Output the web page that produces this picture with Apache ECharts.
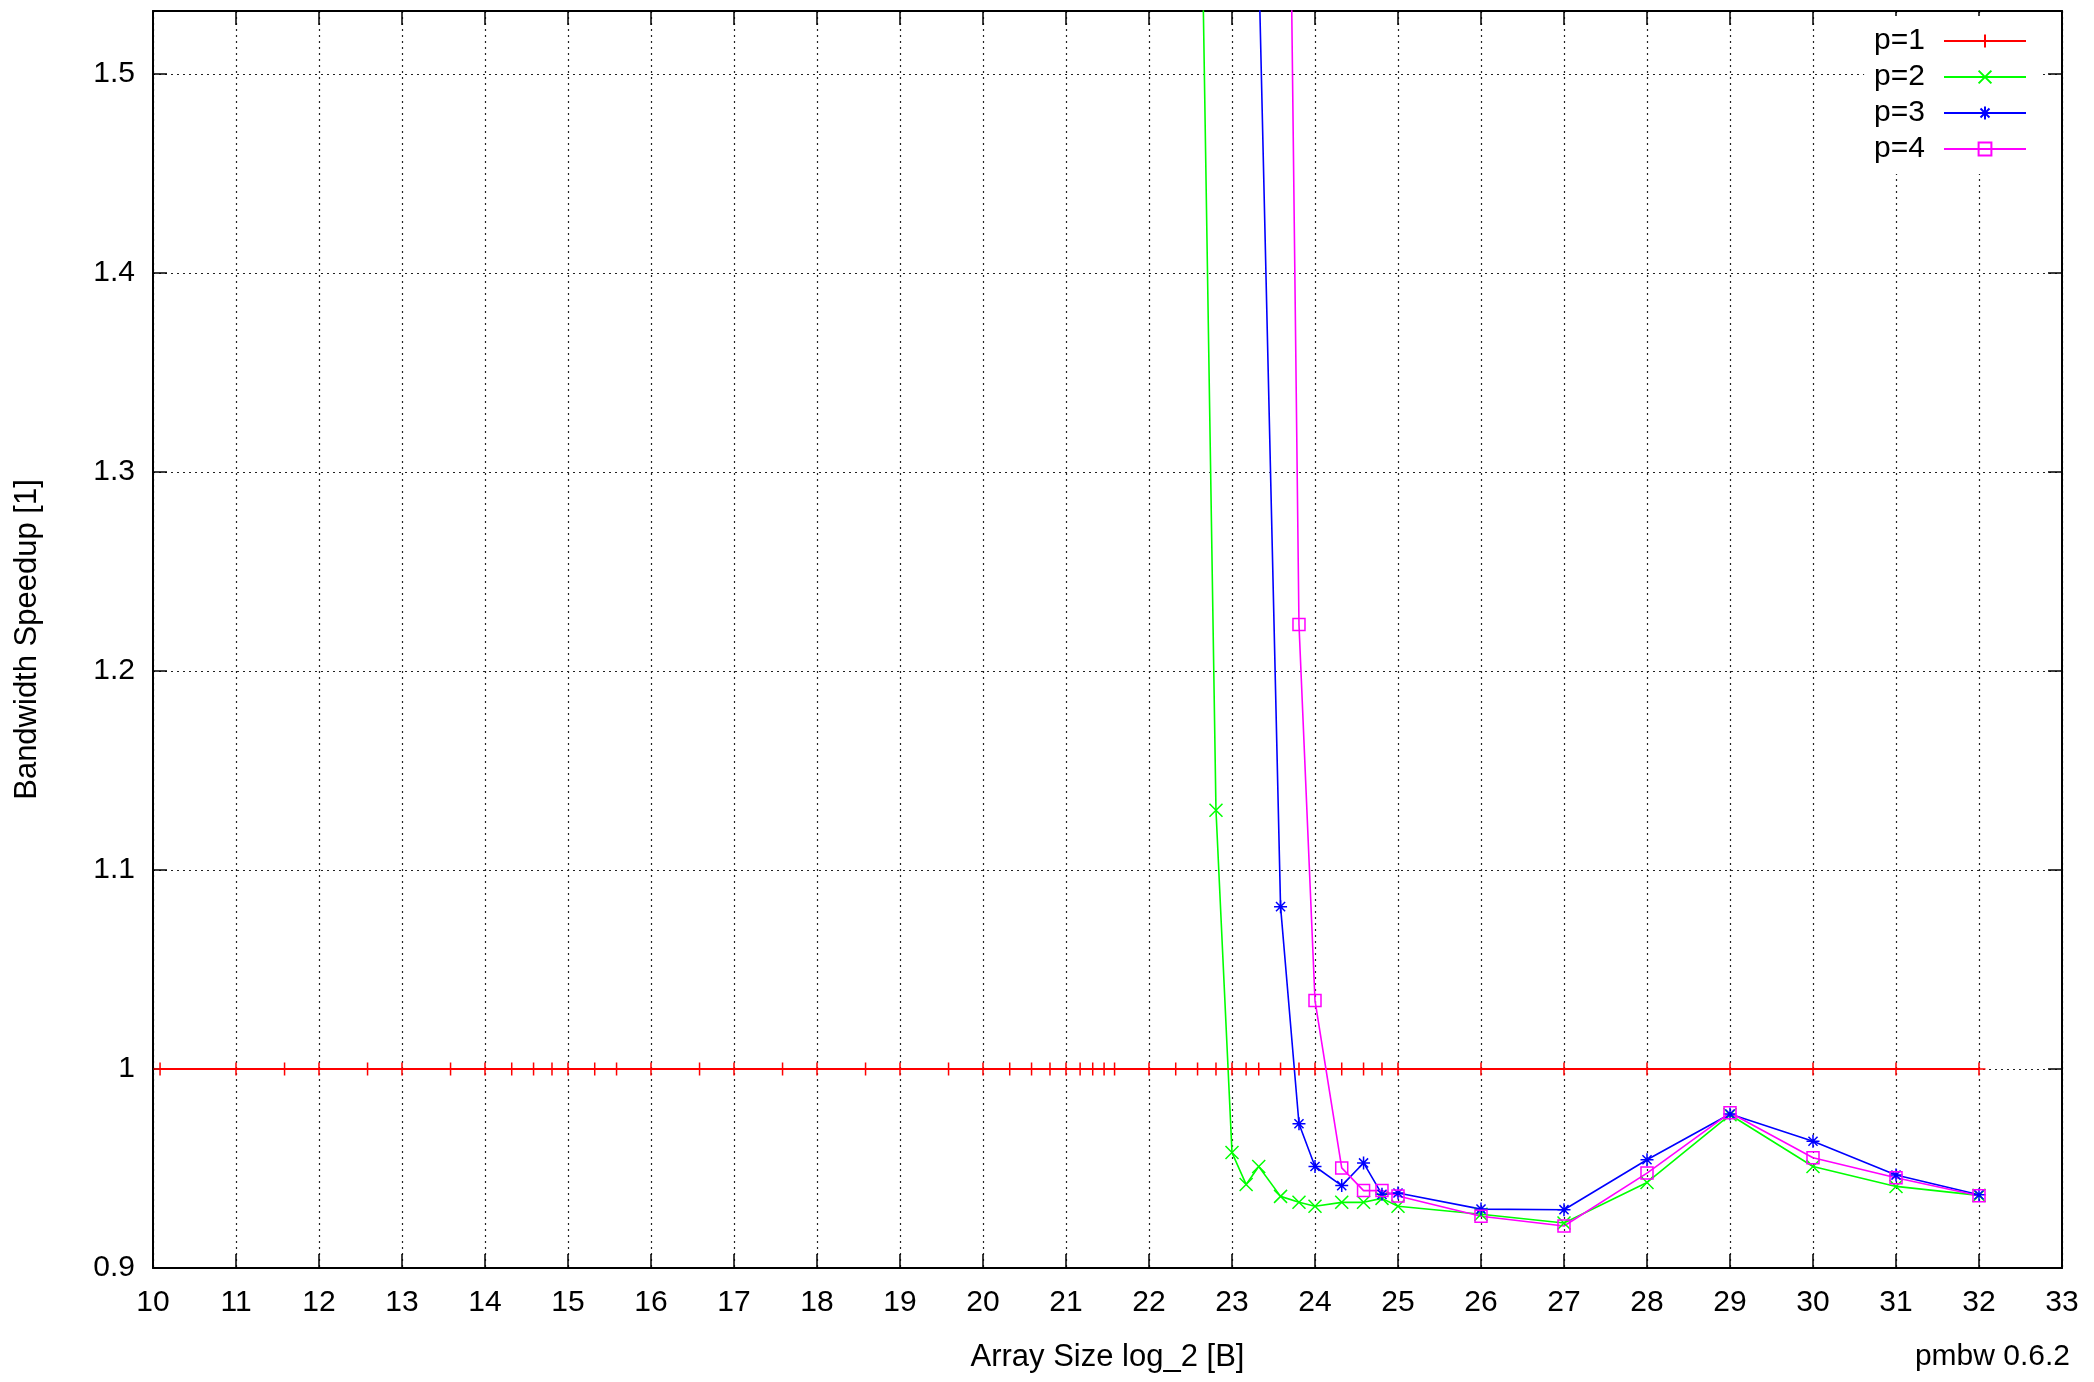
<!DOCTYPE html>
<html>
<head>
<meta charset="utf-8">
<script src="https://cdn.jsdelivr.net/npm/echarts@6/dist/echarts.min.js"></script>
<style>
html,body{margin:0;padding:0;background:#fff;}
#chart{width:2094px;height:1382px;}
</style>
</head>
<body>
<div id="chart"></div>
<script>
// Array size log_2 [B]
const sizes = [10.085, 11, 11.585, 12, 12.585, 13, 13.585, 14, 14.322, 14.585, 14.807, 15, 15.322, 15.585, 16, 16.585, 17, 17.585, 18, 18.585, 19, 19.585, 20, 20.322, 20.585, 20.807, 21, 21.17, 21.322, 21.459, 21.585, 22, 22.322, 22.585, 22.807, 23, 23.17, 23.322, 23.585, 23.807, 24, 24.322, 24.585, 24.807, 25, 26, 27, 28, 29, 30, 31, 32];
const seriesNames = ['p=1', 'p=2', 'p=3', 'p=4'];
const p1 = [1, 1, 1, 1, 1, 1, 1, 1, 1, 1, 1, 1, 1, 1, 1, 1, 1, 1, 1, 1, 1, 1, 1, 1, 1, 1, 1, 1, 1, 1, 1, 1, 1, 1, 1, 1, 1, 1, 1, 1, 1, 1, 1, 1, 1, 1, 1, 1, 1, 1, 1, 1];
// values above the visible range (> 1.53) are estimates
const p2 = [1.96, 1.97, 1.97, 1.98, 1.97, 1.98, 1.98, 1.97, 1.98, 1.98, 1.97, 1.98, 1.97, 1.98, 1.97, 1.98, 1.97, 1.96, 1.97, 1.96, 1.95, 1.95, 1.94, 1.93, 1.92, 1.92, 1.91, 1.90, 1.89, 1.88, 1.87, 1.84, 1.80, 1.717, 1.13, 0.958, 0.942, 0.951, 0.936, 0.933, 0.931, 0.933, 0.933, 0.935, 0.931, 0.927, 0.9226, 0.943, 0.977, 0.951, 0.941, 0.9365];
const p3 = [2.90, 2.92, 2.93, 2.94, 2.93, 2.95, 2.94, 2.93, 2.94, 2.95, 2.94, 2.95, 2.94, 2.93, 2.94, 2.92, 2.91, 2.90, 2.89, 2.88, 2.86, 2.85, 2.83, 2.81, 2.79, 2.77, 2.74, 2.71, 2.68, 2.64, 2.60, 2.48, 2.35, 2.20, 2.02, 1.85, 1.70, 1.557, 1.0816, 0.9725, 0.951, 0.9414, 0.9528, 0.937, 0.9377, 0.9296, 0.9293, 0.9544, 0.9774, 0.9637, 0.9467, 0.9368];
const p4 = [3.80, 3.85, 3.87, 3.88, 3.87, 3.89, 3.88, 3.87, 3.88, 3.89, 3.88, 3.89, 3.88, 3.87, 3.86, 3.84, 3.82, 3.80, 3.78, 3.75, 3.72, 3.69, 3.65, 3.61, 3.57, 3.53, 3.48, 3.42, 3.36, 3.30, 3.24, 3.05, 2.85, 2.70, 2.55, 2.42, 2.30, 2.18, 2.01, 1.2234, 1.0344, 0.9503, 0.9389, 0.9389, 0.9362, 0.926, 0.9211, 0.9477, 0.978, 0.9554, 0.9454, 0.9363];
const xTickMin = 10, xTickMax = 33, xTickStep = 1;
const yTickMin = 0.9, yTickMax = 1.5317, yTickStep = 0.1;

const colors = ['#ff0000', '#00ff00', '#0000ff', '#ff00ff'];
const symbols = [
  'path://M5,0 L5,10 M0,5 L10,5',
  'path://M0,0 L10,10 M10,0 L0,10',
  'path://M5,0 L5,10 M0,5 L10,5 M1.5,1.5 L8.5,8.5 M8.5,1.5 L1.5,8.5',
  'path://M0,0 L10,0 L10,10 L0,10 Z'
];
const values = [p1, p2, p3, p4];
const FONT = "'Liberation Sans', Arial, Helvetica, sans-serif";

const series = values.map((vals, i) => ({
  name: seriesNames[i],
  type: 'line',
  xAxisIndex: 0,
  yAxisIndex: 0,
  data: sizes.map((x, j) => [x, vals[j]]),
  symbol: symbols[i],
  symbolSize: i === 3 ? 12 : 13,
  symbolKeepAspect: true,
  showAllSymbol: true,
  clip: true,
  lineStyle: { color: colors[i], width: i === 0 ? 2 : 1.6 },
  itemStyle: { color: i === 3 ? 'rgba(255,255,255,0)' : colors[i], borderColor: colors[i], borderWidth: 1.5 },
  emphasis: { disabled: true },
  animation: false
}));

const chart = echarts.init(document.getElementById('chart'));
const fmt = v => {
  const r = Math.round(v * 1000) / 1000;
  if (Math.abs(Math.round(r / yTickStep) * yTickStep - r) > 1e-6) return '';
  return String(+r.toFixed(2));
};
chart.setOption({
  animation: false,
  backgroundColor: '#fff',
  textStyle: { fontFamily: FONT },
  grid: { left: 153, top: 11, right: 32, bottom: 114, containLabel: false },
  legend: {
    orient: 'vertical',
    align: 'right',
    right: 51,
    top: 16,
    padding: [10, 16, 10, 10],
    backgroundColor: '#fff',
    itemWidth: 82,
    itemHeight: 16,
    itemGap: 6,
    data: seriesNames,
    textStyle: { fontSize: 30, color: '#000', fontFamily: FONT, lineHeight: 30, padding: [0, 14, 0, 0] },
    selectedMode: false
  },
  xAxis: [{
    type: 'value', position: 'bottom', min: xTickMin, max: xTickMax, interval: xTickStep,
    name: 'Array Size log_2 [B]', nameLocation: 'middle', nameGap: 74,
    nameTextStyle: { fontSize: 31, color: '#000', fontFamily: FONT },
    axisLine: { show: true, onZero: false, lineStyle: { color: '#000', width: 2 } },
    axisTick: { show: true, inside: true, length: 14, lineStyle: { color: '#000', width: 1.5 } },
    axisLabel: { fontSize: 30, color: '#000', margin: 20, fontFamily: FONT },
    splitLine: { show: true, lineStyle: { color: '#222', width: 1.2, type: [2, 4] } }
  }, {
    type: 'value', position: 'top', min: xTickMin, max: xTickMax, interval: xTickStep,
    axisLine: { show: true, onZero: false, lineStyle: { color: '#000', width: 2 } },
    axisTick: { show: true, inside: true, length: 14, lineStyle: { color: '#000', width: 1.5 } },
    axisLabel: { show: false },
    splitLine: { show: false }
  }],
  yAxis: [{
    type: 'value', position: 'left', min: yTickMin, max: yTickMax, interval: yTickStep,
    name: 'Bandwidth Speedup [1]', nameLocation: 'middle', nameGap: 110, nameRotate: 90,
    nameTextStyle: { fontSize: 31, color: '#000', fontFamily: FONT },
    axisLine: { show: true, onZero: false, lineStyle: { color: '#000', width: 2 } },
    axisTick: { show: true, inside: true, length: 14, lineStyle: { color: '#000', width: 1.5 } },
    axisLabel: { fontSize: 30, color: '#000', margin: 18, fontFamily: FONT, formatter: fmt, showMaxLabel: false },
    splitLine: { show: true, lineStyle: { color: '#222', width: 1.2, type: [2, 4] } }
  }, {
    type: 'value', position: 'right', min: yTickMin, max: yTickMax, interval: yTickStep,
    axisLine: { show: true, onZero: false, lineStyle: { color: '#000', width: 2 } },
    axisTick: { show: true, inside: true, length: 14, lineStyle: { color: '#000', width: 1.5 } },
    axisLabel: { show: false },
    splitLine: { show: false }
  }],
  graphic: [{
    type: 'text', right: 24, top: 1342,
    style: { text: 'pmbw 0.6.2', fontSize: 30, fill: '#000', fontFamily: FONT }
  }],
  series: series
});
</script>
</body>
</html>
